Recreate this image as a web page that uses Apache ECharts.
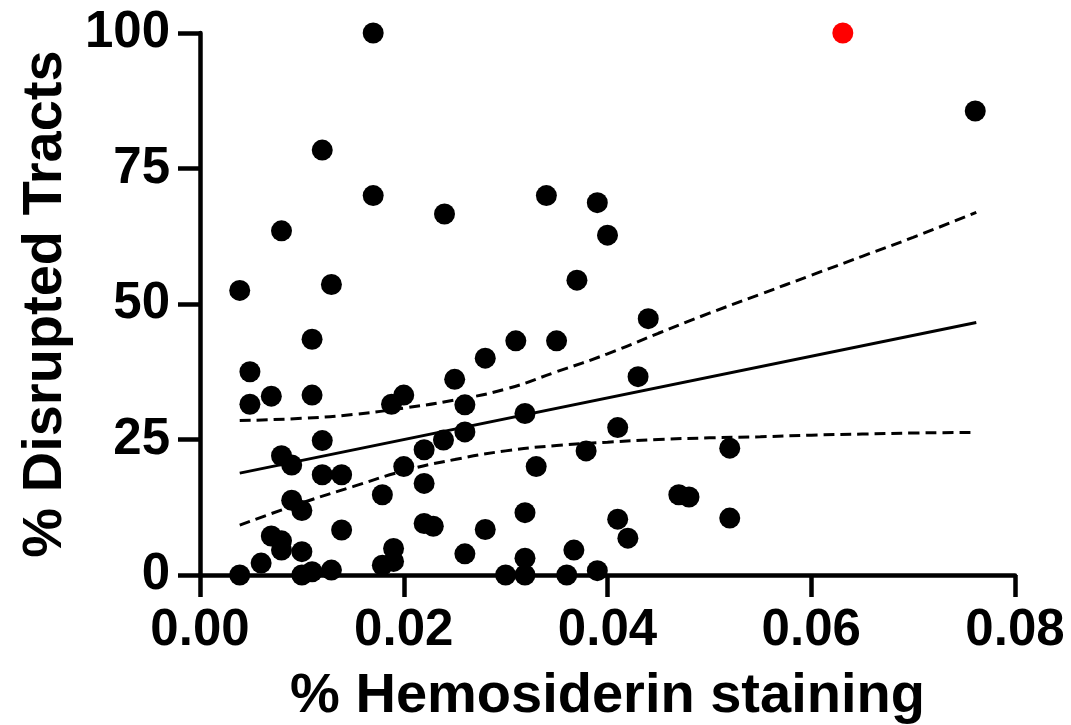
<!DOCTYPE html>
<html>
<head>
<meta charset="utf-8">
<script src="https://cdn.jsdelivr.net/npm/echarts@6/dist/echarts.min.js"></script>
<style>
  html, body { margin: 0; padding: 0; background: #fff; }
  #chart { width: 1071px; height: 725px; }
</style>
</head>
<body>
<div id="chart"></div>
<script>
// Hemosiderin staining (%) values for each sample
var hemosiderin = [
  0.0170, 0.0761, 0.0120, 0.0170, 0.0340, 0.0390, 0.0240, 0.0080, 0.0400, 0.0370,
  0.0129, 0.0039, 0.0440, 0.0110, 0.0310, 0.0350, 0.0280, 0.0049, 0.0430, 0.0250,
  0.0110, 0.0070, 0.0200, 0.0049, 0.0188, 0.0260, 0.0319, 0.0410, 0.0260, 0.0120,
  0.0239, 0.0520, 0.0220, 0.0379, 0.0080, 0.0090, 0.0200, 0.0330, 0.0120, 0.0139,
  0.0220, 0.0179, 0.0470, 0.0480, 0.0090, 0.0100, 0.0319, 0.0520, 0.0410, 0.0220,
  0.0229, 0.0139, 0.0280, 0.0070, 0.0420, 0.0080, 0.0190, 0.0080, 0.0367, 0.0100,
  0.0260, 0.0319, 0.0190, 0.0060, 0.0179, 0.0129, 0.0390, 0.0110, 0.0039, 0.0100,
  0.0300, 0.0319, 0.0360
];
// Disrupted tracts (%) values for each sample
var disrupted = [
  100, 85.6, 78.4, 70.0, 70.0, 68.7, 66.6, 63.5, 62.7, 54.4,
  53.6, 52.5, 47.3, 43.5, 43.2, 43.2, 40.0, 37.5, 36.6, 36.1,
  33.2, 33.0, 33.2, 31.5, 31.5, 31.4, 29.8, 27.2, 26.4, 24.8,
  24.9, 23.4, 23.1, 22.9, 22.0, 20.3, 20.0, 20.0, 18.5, 18.5,
  16.9, 14.8, 14.8, 14.4, 13.8, 11.9, 11.5, 10.5, 10.3, 9.5,
  9.0, 8.3, 8.4, 7.2, 6.8, 6.3, 4.9, 4.6, 4.6, 4.3,
  3.9, 3.1, 2.5, 2.2, 1.8, 0.9, 0.8, 0.6, 0, 0,
  0, 0, 0
];
// Highlighted (red) sample
var highlightX = [0.0631];
var highlightY = [100];

// Regression line end points
var fitX = [0.0039, 0.0762];
var fitY = [18.8, 46.6];

// Confidence band
var bandX = [0.0039, 0.010, 0.015, 0.020, 0.025, 0.030, 0.035, 0.040, 0.045, 0.050, 0.055, 0.060, 0.065, 0.070, 0.0762];
var bandUpper = [28.5, 28.9, 29.6, 30.8, 32.3, 34.3, 37.5, 40.8, 44.6, 48.3, 51.8, 55.3, 58.8, 62.3, 66.9];
var bandLower = [9.2, 13.3, 16.3, 19.2, 21.3, 22.9, 23.9, 24.5, 25.0, 25.3, 25.5, 25.8, 26.0, 26.2, 26.3];

var xTicks = [0, 0.02, 0.04, 0.06, 0.08];
var yTicks = [0, 25, 50, 75, 100];

function pairs(xs, ys) {
  var out = [];
  for (var i = 0; i < xs.length; i++) out.push([xs[i], ys[i]]);
  return out;
}

var FONT = '"Liberation Sans", Arial, Helvetica, sans-serif';
var chart = echarts.init(document.getElementById('chart'));

chart.setOption({
  animation: false,
  backgroundColor: '#fff',
  grid: { left: 200, right: 56, top: 33, bottom: 150, containLabel: false, outerBoundsMode: 'none' },
  xAxis: {
    type: 'value',
    min: xTicks[0], max: xTicks[xTicks.length - 1], interval: 0.02,
    name: '% Hemosiderin staining',
    nameLocation: 'middle',
    nameGap: 94,
    nameTextStyle: { fontFamily: FONT, fontWeight: 'bold', fontSize: 56, color: '#000' },
    axisLine: { show: true, lineStyle: { color: '#000', width: 4.5 } },
    axisTick: { show: true, length: 22, lineStyle: { color: '#000', width: 4.5 } },
    axisLabel: {
      fontFamily: FONT, fontWeight: 'bold', fontSize: 51, color: '#000', margin: 30,
      formatter: function (v) { return v.toFixed(2); }
    },
    splitLine: { show: false }
  },
  yAxis: {
    type: 'value',
    min: yTicks[0], max: yTicks[yTicks.length - 1], interval: 25,
    name: '% Disrupted Tracts',
    nameLocation: 'middle',
    nameGap: 124,
    nameTextStyle: { fontFamily: FONT, fontWeight: 'bold', fontSize: 56, color: '#000' },
    axisLine: { show: true, lineStyle: { color: '#000', width: 4.5 } },
    axisTick: { show: true, length: 22, lineStyle: { color: '#000', width: 4.5 } },
    axisLabel: { fontFamily: FONT, fontWeight: 'bold', fontSize: 51, color: '#000', margin: 30 },
    splitLine: { show: false }
  },
  series: [
    {
      type: 'line', data: pairs(bandX, bandUpper), showSymbol: false, smooth: true,
      lineStyle: { color: '#000', width: 3, type: [11, 6] }, z: 3, silent: true
    },
    {
      type: 'line', data: pairs(bandX, bandLower), showSymbol: false, smooth: true,
      lineStyle: { color: '#000', width: 3, type: [11, 6] }, z: 3, silent: true
    },
    {
      type: 'line', data: pairs(fitX, fitY), showSymbol: false,
      lineStyle: { color: '#000', width: 3 }, z: 3, silent: true
    },
    {
      type: 'scatter', data: pairs(hemosiderin, disrupted), symbol: 'circle', symbolSize: 21,
      itemStyle: { color: '#000', opacity: 1 }, clip: false, z: 5
    },
    {
      type: 'scatter', data: pairs(highlightX, highlightY), symbol: 'circle', symbolSize: 21,
      itemStyle: { color: '#ff0000', opacity: 1 }, clip: false, z: 5
    }
  ]
});
</script>
</body>
</html>
